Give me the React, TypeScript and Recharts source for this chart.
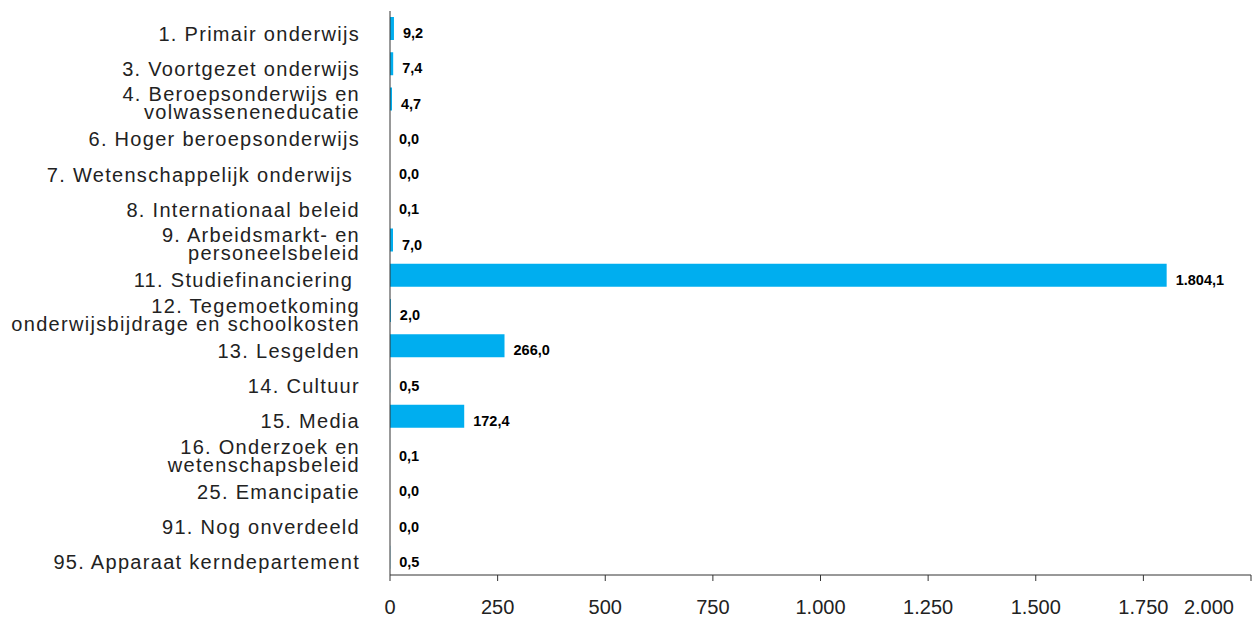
import React from "react"
import { BarChart, Bar, XAxis, YAxis, LabelList } from "recharts"

const categories = [
  "1. Primair onderwijs",
  "3. Voortgezet onderwijs",
  "4. Beroepsonderwijs en\nvolwasseneneducatie",
  "6. Hoger beroepsonderwijs",
  "7. Wetenschappelijk onderwijs\u00a0",
  "8. Internationaal beleid",
  "9. Arbeidsmarkt- en\npersoneelsbeleid",
  "11. Studiefinanciering\u00a0",
  "12. Tegemoetkoming\nonderwijsbijdrage en schoolkosten",
  "13. Lesgelden",
  "14. Cultuur",
  "15. Media",
  "16. Onderzoek en\nwetenschapsbeleid",
  "25. Emancipatie",
  "91. Nog onverdeeld",
  "95. Apparaat kerndepartement",
]

const values = [9.2, 7.4, 4.7, 0.0, 0.0, 0.1, 7.0, 1804.1, 2.0, 266.0, 0.5, 172.4, 0.1, 0.0, 0.0, 0.5]

const xTicks = [0, 250, 500, 750, 1000, 1250, 1500, 1750, 2000]

const data = categories.map((name, i) => ({ name, value: values[i] }))

// Dutch number format: 1.804,1
function fmt(v: number, decimals: number) {
  const fixed = v.toFixed(decimals)
  const [int, dec] = fixed.split(".")
  const withDots = int.replace(/\B(?=(\d{3})+(?!\d))/g, ".")
  return dec !== undefined ? `${withDots},${dec}` : withDots
}

const CategoryTick = ({ x, y, payload }: any) => {
  const lines = String(payload.value).split("\n")
  const first = lines.length > 1 ? 2 : 12
  return (
    <text
      x={x}
      y={y}
      textAnchor="end"
      fill="#222"
      fontSize={20}
      letterSpacing={1.3}
      fontFamily="'Liberation Sans', Arial, sans-serif"
    >
      {lines.map((l, i) => (
        <tspan key={i} x={x} dy={i === 0 ? first : 18}>
          {l}
        </tspan>
      ))}
    </text>
  )
}

const ValueTick = ({ x, y, payload, index }: any) => {
  const last = index === xTicks.length - 1
  return (
    <text
      x={last ? x - 3 : x}
      y={y + 31}
      textAnchor={last ? "end" : "middle"}
      fill="#222"
      fontSize={20}
      fontFamily="'Liberation Sans', Arial, sans-serif"
    >
      {fmt(payload.value, 0)}
    </text>
  )
}

const ValueLabel = ({ x, y, width, height, value }: any) => (
  <text
    x={x + (width || 0) + 9}
    y={y + height / 2 + 9.5}
    fill="#000"
    fontSize={14.5}
    fontWeight="bold"
    fontFamily="'Liberation Sans', Arial, sans-serif"
  >
    {fmt(Number(value), 1)}
  </text>
)

export default function App() {
  return (
    <div style={{ position: "absolute", left: 0, top: 0, background: "#fff" }}>
      <BarChart
        width={1253}
        height={617}
        data={data}
        layout="vertical"
        margin={{ top: 11, right: 2, bottom: 0, left: 0 }}
        barCategoryGap={0}
      >
        <XAxis
          type="number"
          domain={[0, 2000]}
          ticks={xTicks}
          height={42}
          stroke="#333"
          tickSize={6}
          tickMargin={2}
          tick={<ValueTick />}
          allowDataOverflow
        />
        <YAxis
          type="category"
          dataKey="name"
          width={390}
          stroke="#333"
          tickLine={false}
          tickSize={0}
          tickMargin={30}
          interval={0}
          tick={<CategoryTick />}
        />
        <Bar dataKey="value" fill="#00AEEF" barSize={23} minPointSize={0.01} isAnimationActive={false}>
          <LabelList dataKey="value" content={<ValueLabel />} />
        </Bar>
      </BarChart>
    </div>
  )
}
